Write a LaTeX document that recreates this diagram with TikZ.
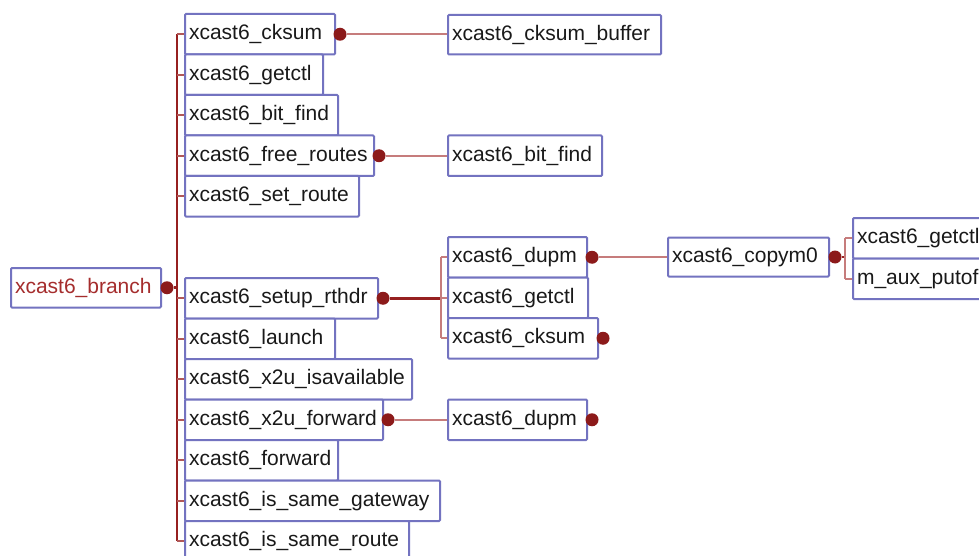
\documentclass[tikz,border=0pt]{standalone}
\usepackage{fontspec}
\setmainfont{Liberation Sans}
\definecolor{boxc}{RGB}{115,115,192}
\definecolor{dotc}{RGB}{140,26,26}
\definecolor{trunkc}{RGB}{150,32,32}
\definecolor{linkc}{RGB}{198,124,124}
\definecolor{stubc}{RGB}{178,88,88}
\definecolor{rootc}{RGB}{165,45,45}
\definecolor{txtc}{RGB}{25,25,25}
\tikzset{
  fn/.style={draw=boxc, line width=2pt, fill=white, rounded corners=1pt,
    anchor=north west, minimum height=40.5pt, inner xsep=4pt, inner ysep=0pt,
    align=left, text=txtc, font=\fontsize{21}{25}\selectfont},
  dot/.style={circle, fill=dotc, draw=none, minimum size=13pt, inner sep=0pt},
  trunk/.style={draw=trunkc, line width=2.8pt},
  link/.style={draw=linkc, line width=2.2pt},
  stub/.style={draw=stubc, line width=1.8pt},
}
\begin{document}
\begin{tikzpicture}[x=1pt, y=-1pt]
\clip (0,0) rectangle (979,556);
\fill[white] (0,0) rectangle (979,556);

% root
\node[fn, text width=142pt, minimum height=39.5pt, text=rootc] (root) at (10,267) {xcast6\_branch};

% first column
\node[fn, text width=142pt] (a1) at (184,13) {xcast6\_cksum};
\node[fn, text width=130pt] (a2) at (184,53.5) {xcast6\_getctl};
\node[fn, text width=145pt] (a3) at (184,94) {xcast6\_bit\_find};
\node[fn, text width=181pt] (a4) at (184,134.5) {xcast6\_free\_routes};
\node[fn, text width=166pt] (a5) at (184,175) {xcast6\_set\_route};
\node[fn, text width=185pt] (a6) at (184,277) {xcast6\_setup\_rthdr};
\node[fn, text width=142pt] (a7) at (184,317.5) {xcast6\_launch};
\node[fn, text width=219pt] (a8) at (184,358) {xcast6\_x2u\_isavailable};
\node[fn, text width=190pt] (a9) at (184,398.5) {xcast6\_x2u\_forward};
\node[fn, text width=145pt] (a10) at (184,439) {xcast6\_forward};
\node[fn, text width=247pt] (a11) at (184,479.5) {xcast6\_is\_same\_gateway};
\node[fn, text width=216pt] (a12) at (184,520) {xcast6\_is\_same\_route};

% second column
\node[fn, text width=205pt, minimum height=39.5pt] (b1) at (447,14) {xcast6\_cksum\_buffer};
\node[fn, text width=146pt] (b2) at (447,134.5) {xcast6\_bit\_find};
\node[fn, text width=131pt] (b3) at (447,236) {xcast6\_dupm};
\node[fn, text width=132pt] (b4) at (447,276.5) {xcast6\_getctl};
\node[fn, text width=142pt] (b5) at (447,317) {xcast6\_cksum};
\node[fn, text width=131pt] (b6) at (447,398.5) {xcast6\_dupm};

% third and fourth columns
\node[fn, text width=153pt, minimum height=39pt] (c1) at (667,236.5) {xcast6\_copym0};
\node[fn, text width=160pt] (d1) at (852,217) {xcast6\_getctl};
\node[fn, text width=160pt] (d2) at (852,257.5) {m\_aux\_putof};

% calling-point dots
\node[dot] (proot) at ([xshift=5pt]root.east) {};
\node[dot] (pa1) at ([xshift=4pt]a1.east) {};
\node[dot] (pa4) at ([xshift=4pt]a4.east) {};
\node[dot] (pa6) at ([xshift=4pt]a6.east) {};
\node[dot] (pa9) at ([xshift=4pt]a9.east) {};
\node[dot] (pb3) at ([xshift=4pt]b3.east) {};
\node[dot] (pb5) at ([xshift=4pt]b5.east) {};
\node[dot] (pb6) at ([xshift=4pt]b6.east) {};
\node[dot] (pc1) at ([xshift=5pt]c1.east) {};

% bracket columns
\coordinate (ta) at (177,0);
\coordinate (tb) at (441,0);
\coordinate (tc) at (845,0);

% main trunk
\draw[trunk] (ta |- a1.west) -- (ta |- a12.west);
\draw[trunk] (proot) -- (ta |- proot);
\foreach \n in {a1,a2,a3,a4,a5,a6,a7,a8,a9,a10,a11,a12}
  \draw[stub] (ta |- \n.west) -- (\n.west);

% single calls
\draw[link] (pa1) -- (pa1 -| b1.west);
\draw[link] (pa4) -- (pa4 -| b2.west);
\draw[link] (pa9) -- (pa9 -| b6.west);
\draw[link] (pb3) -- (pb3 -| c1.west);

% setup_rthdr calls
\draw[trunk] (pa6) -- (tb |- pa6);
\draw[link] (tb |- b3.west) -- (tb |- b5.west);
\foreach \n in {b3,b4,b5}
  \draw[link] (tb |- \n.west) -- (\n.west);

% copym0 calls
\draw[trunk] (pc1) -- (tc |- pc1);
\draw[link] (tc |- d1.west) -- (tc |- d2.west);
\foreach \n in {d1,d2}
  \draw[link] (tc |- \n.west) -- (\n.west);
\end{tikzpicture}
\end{document}
